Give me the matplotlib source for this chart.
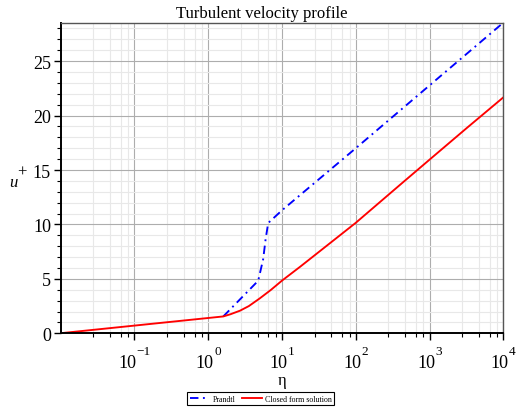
import numpy as np
import matplotlib
matplotlib.use("Agg")
import matplotlib.pyplot as plt
from matplotlib.ticker import FixedLocator, NullFormatter, MultipleLocator

plt.rcParams['font.family'] = ['Liberation Serif', 'DejaVu Serif']

# wall distance eta and velocity u+ for the two profiles
eta_prandtl = [1.6, 4.76, 5.56, 6.0, 6.5, 10, 100, 1000, 10000]
u_prandtl = [1.55, 4.83, 6.82, 8.66, 10.13, 11.3, 17.0, 22.77, 28.53]

eta_closed = [0.01, 1.6, 2.0, 2.7, 3.55, 5.0, 7.08, 10, 17.5, 42.3, 100, 400, 1000, 3162, 10000]
u_closed = [0.01, 1.55, 1.75, 2.08, 2.50, 3.21, 3.99, 4.84, 6.1, 8.15, 10.15, 13.65, 15.95, 18.83, 21.67]

x_ticks = [1e-1, 1e0, 1e1, 1e2, 1e3, 1e4]
y_ticks = [0, 5, 10, 15, 20, 25]

fig = plt.figure(figsize=(5.16, 4.10), dpi=100)
ax = fig.add_axes([0.1176, 0.1846, 0.8578, 0.7576])

ax.plot(eta_prandtl, u_prandtl, color='blue', lw=1.35,
        linestyle=(0, (4.5, 2.4, 1.0, 2.4)), label='Prandtl')
ax.plot(eta_closed, u_closed, color='red', lw=1.35, label='Closed form solution')

ax.set_xscale('log')
ax.set_xlim(1e-2, 1e4)
ax.set_ylim(0, 28.53)

# minor lines inside each decade
offs = [0.442, 0.668, 0.817, 0.916]
minor_x = [10 ** (k + f) for k in range(-2, 4) for f in offs]
ax.xaxis.set_major_locator(FixedLocator(x_ticks))
ax.xaxis.set_minor_locator(FixedLocator(minor_x))
ax.xaxis.set_major_formatter(NullFormatter())
ax.xaxis.set_minor_formatter(NullFormatter())
ax.yaxis.set_major_locator(FixedLocator(y_ticks))
ax.yaxis.set_minor_locator(MultipleLocator(1))

ax.grid(which='major', color='#adadad', lw=0.8)
ax.grid(which='minor', color='#e8e8e8', lw=0.8)
ax.set_axisbelow(True)

ax.tick_params(axis='y', which='major', direction='out', length=5, width=1, labelsize=13, pad=2)
ax.tick_params(axis='y', which='minor', direction='out', length=3, width=0.8)
ax.tick_params(axis='x', which='major', direction='out', length=5, width=1)
ax.tick_params(axis='x', which='minor', direction='out', length=3, width=0.8)

for side in ['left', 'bottom']:
    ax.spines[side].set_linewidth(1.4)
    ax.spines[side].set_color('black')
for side in ['top', 'right']:
    ax.spines[side].set_linewidth(1.0)
    ax.spines[side].set_color('#555555')

# x tick labels: "10" with a raised exponent, the pair centred on the tick
renderer = fig.canvas.get_renderer()
for v in x_ticks:
    k = int(round(np.log10(v)))
    base = ax.annotate('10', xy=(v, 0), xycoords=('data', 'axes fraction'),
                       xytext=(0, -34), textcoords='offset pixels',
                       fontsize=13, ha='left', va='baseline')
    expo = ax.annotate(str(k).replace('-', '\u2212'), xy=(v, 0),
                       xycoords=('data', 'axes fraction'),
                       xytext=(0, -21), textcoords='offset pixels',
                       fontsize=9.5, ha='left', va='baseline')
    w10 = base.get_window_extent(renderer).width
    wex = expo.get_window_extent(renderer).width
    left = -(w10 + 0.5 + wex) / 2
    base.xyann = (left, -34)
    expo.xyann = (left + w10 + 0.5, -21)

fig.suptitle('Turbulent velocity profile', fontsize=12, x=0.507, y=0.985, va='top')
ax.set_xlabel('η', fontsize=12)
ax.xaxis.set_label_coords(0.5, -0.15)
ax.xaxis.label.set_va('center')

# y label: italic u with a raised plus
fig.text(9 / 516, 1 - 187 / 410, 'u', fontsize=12, style='italic', ha='left', va='baseline')
fig.text(22 / 516, 1 - 173 / 410, '+', fontsize=12, ha='center', va='center')

leg = fig.legend(loc='center', bbox_to_anchor=(0.505, 0.0256), ncol=2, fontsize=5.7,
                 frameon=True, fancybox=False, edgecolor='black', framealpha=1,
                 handlelength=2.5, columnspacing=0.8, handletextpad=0.4,
                 borderpad=0.35)
leg.get_frame().set_linewidth(0.8)

fig.savefig('out.png', dpi=100)
